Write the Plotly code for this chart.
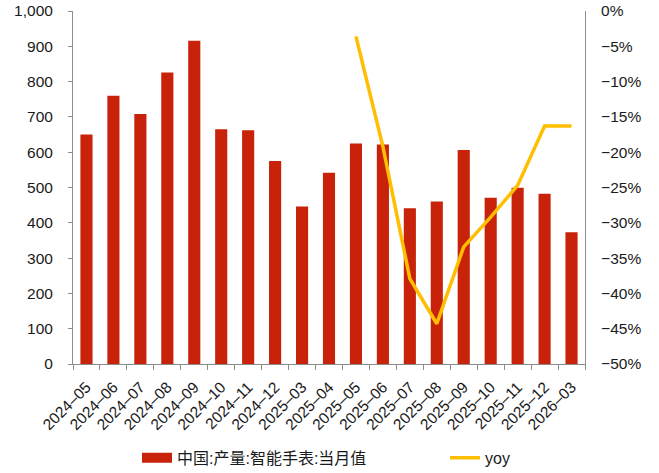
import plotly.graph_objects as go

# Monthly smartwatch output (10k units) and its year-on-year change (%)
months = ["2024-05", "2024-06", "2024-07", "2024-08", "2024-09", "2024-10",
          "2024-11", "2024-12", "2025-03", "2025-04", "2025-05", "2025-06",
          "2025-07", "2025-08", "2025-09", "2025-10", "2025-11", "2025-12",
          "2026-03"]
output = [650, 760, 708, 826, 916, 665, 662, 575, 446, 542, 625, 622,
          441, 460, 606, 471, 499, 482, 373]
yoy = [None, None, None, None, None, None, None, None, None, None,
       -3.6, -19.2, -37.9, -44.3, -33.4, -29.2, -24.7, -16.3, -16.3]
month_labels = [m.replace("-", "–") for m in months]

bar_name = "中国:产量:智能手表:当月值"
line_name = "yoy"

font_family = "Liberation Sans, Arial, Noto Sans CJK SC, sans-serif"
axis_grey = "#8c8c8c"
bar_red = "#C8220A"
line_gold = "#FFBE00"

fig = go.Figure()
fig.add_trace(go.Bar(
    x=months, y=output, name=bar_name, showlegend=False,
    marker=dict(color=bar_red, line=dict(width=0)),
    width=0.45,
))
# wide red swatch for the bar series' legend entry
fig.add_trace(go.Scatter(
    x=[months[0]], y=[None], name=bar_name, mode="lines",
    line=dict(color=bar_red, width=10), legend="legend",
))
fig.add_trace(go.Scatter(
    x=months, y=yoy, name=line_name, yaxis="y2",
    mode="lines", line=dict(color=line_gold, width=3.5),
    connectgaps=False, legend="legend2",
))

legend_common = dict(
    orientation="h", yref="container", y=0.032, yanchor="middle",
    xref="container", xanchor="left",
    font=dict(size=16), bgcolor="rgba(0,0,0,0)",
)

fig.update_layout(
    width=659, height=473,
    margin=dict(l=73, r=74, t=11, b=109),
    paper_bgcolor="white", plot_bgcolor="white",
    font=dict(family=font_family, size=13, color="#1a1a1a"),
    showlegend=True,
    legend=dict(x=137 / 659, **legend_common),
    legend2=dict(x=445 / 659, **legend_common),
    xaxis=dict(
        type="category", tickangle=-45, tickson="boundaries",
        tickmode="array", tickvals=months, ticktext=month_labels,
        ticks="outside", ticklen=5, tickcolor=axis_grey,
        showline=True, linecolor=axis_grey, linewidth=1,
        showgrid=False, tickfont=dict(size=15.5), automargin=False,
        ticklabelstandoff=7,
    ),
    yaxis=dict(
        range=[0, 1000], dtick=100, tickformat=",",
        ticks="outside", ticklen=4, tickcolor=axis_grey,
        showline=True, linecolor=axis_grey, linewidth=1,
        showgrid=False, zeroline=False, tickfont=dict(size=15.5),
        automargin=False, ticklabelstandoff=12,
    ),
    yaxis2=dict(
        overlaying="y", side="right", range=[-50, 0], dtick=5,
        ticksuffix="%", ticks="", showline=True, linecolor=axis_grey,
        linewidth=1, showgrid=False, zeroline=False,
        tickfont=dict(size=15.5), automargin=False, ticklabelstandoff=12,
    ),
)

fig.write_html("out.html")
